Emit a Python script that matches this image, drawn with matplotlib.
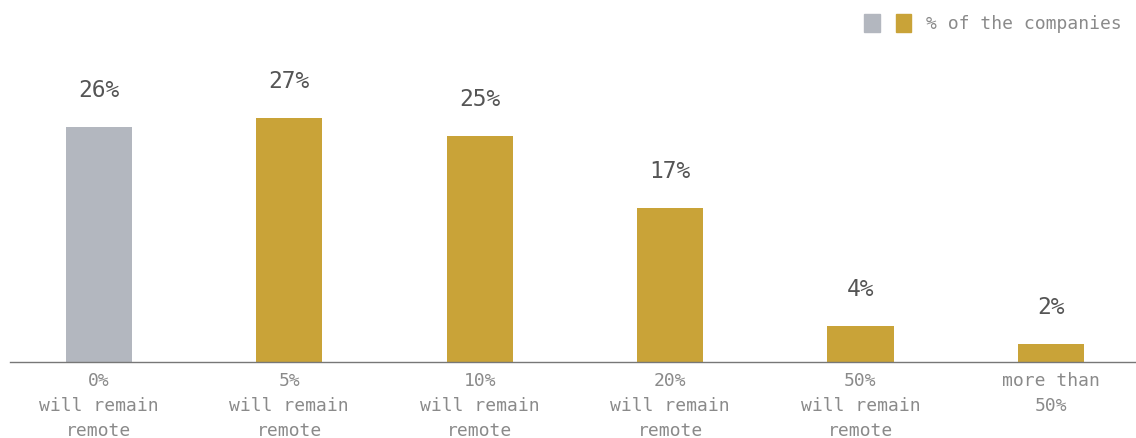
import matplotlib.pyplot as plt
from matplotlib.patches import Patch
from matplotlib.legend_handler import HandlerTuple

# share of companies by the portion of staff that will stay remote
categories = ["0%\nwill remain\nremote", "5%\nwill remain\nremote",
              "10%\nwill remain\nremote", "20%\nwill remain\nremote",
              "50%\nwill remain\nremote", "more than\n50%"]
values = [26, 27, 25, 17, 4, 2]

GRAY = "#b3b7bf"
GOLD = "#c9a338"
colors = [GRAY] + [GOLD] * (len(values) - 1)

plt.rcParams["font.family"] = ["DejaVu Sans Mono"]

fig = plt.figure(figsize=(11.36, 4.38), dpi=100)
ax = fig.add_axes([10 / 1136, 76 / 438, 1126 / 1136, 271 / 438])

x = list(range(len(values)))
bars = ax.bar(x, values, width=0.347, color=colors)

for b, v in zip(bars, values):
    ax.annotate(f"{v}%", (b.get_x() + b.get_width() / 2, v),
                xytext=(0, 18), textcoords="offset points",
                ha="center", va="bottom", fontsize=16.5, color="#555555")

ax.set_xlim(-0.467, 5.447)
ax.set_ylim(0, 30)
ax.set_xticks(x)
ax.set_xticklabels(categories, fontsize=13, color="#8a8a8a", linespacing=1.5)
for lbl in ax.get_xticklabels():
    lbl.set_multialignment("center")
ax.tick_params(axis="x", length=0, pad=7)
ax.set_yticks([])
for side in ["top", "right", "left"]:
    ax.spines[side].set_visible(False)
ax.spines["bottom"].set_color("#777777")
ax.spines["bottom"].set_linewidth(1)

handles = [(Patch(color=GRAY), Patch(color=GOLD))]
fig.legend(handles, ["% of the companies"],
           handler_map={tuple: HandlerTuple(ndivide=None, pad=0.9)},
           loc="upper right", bbox_to_anchor=(1.0, 1.0), frameon=False,
           fontsize=13, labelcolor="#8a8a8a", handlelength=2.6,
           handleheight=1.1, handletextpad=0.8, borderaxespad=0.4)

fig.savefig("out.png", dpi=100)
